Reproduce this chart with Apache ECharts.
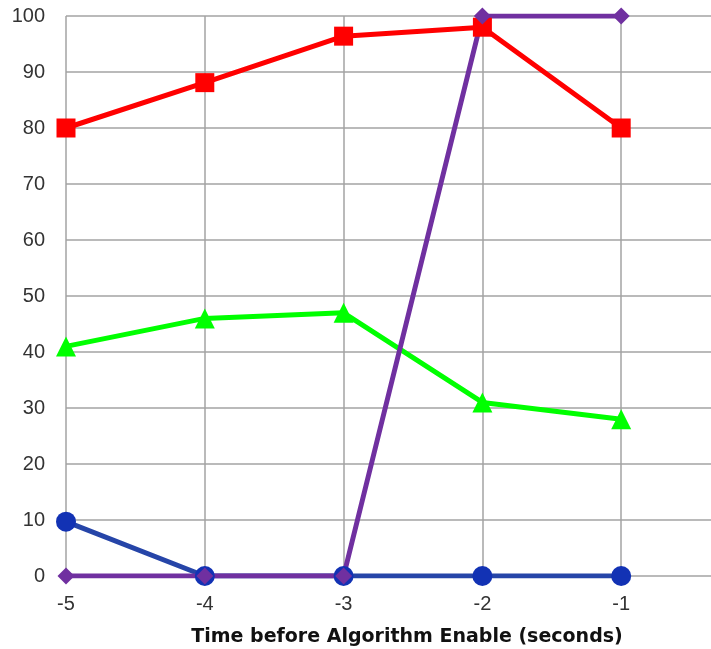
<!DOCTYPE html>
<html>
<head>
<meta charset="utf-8">
<script src="https://cdn.jsdelivr.net/npm/echarts@6/dist/echarts.min.js"></script>
<style>
  html, body { margin: 0; padding: 0; background: #ffffff; }
  #chart { width: 711px; height: 649px; }
</style>
</head>
<body>
<div id="chart"></div>
<script>
// Seconds before the algorithm is enabled
const times = [-5, -4, -3, -2, -1];

// Series values (percent)
const blueValues = [9.7, 0, 0, 0, 0];
const greenValues = [41, 46, 47, 31, 28];
const redValues = [80, 88.1, 96.4, 98, 80];
const purpleValues = [0, 0, 0, 100, 100];

const yTicks = [0, 10, 20, 30, 40, 50, 60, 70, 80, 90, 100];
const xTitle = 'Time before Algorithm Enable (seconds)';

const pairs = vals => times.map((t, i) => [t, vals[i]]);

const gridColor = '#a3a3a3';
const font = '"Liberation Sans", Arial, sans-serif';

const chart = echarts.init(document.getElementById('chart'), null, { renderer: 'canvas' });

function makeSeries(name, vals, symbol, size, lineColor, markerColor) {
  return {
    name: name,
    type: 'line',
    data: pairs(vals),
    symbol: symbol,
    symbolSize: size,
    showAllSymbol: true,
    lineStyle: { color: lineColor, width: 5 },
    itemStyle: { color: markerColor },
    emphasis: { disabled: true },
    animation: false
  };
}

chart.setOption({
  animation: false,
  // the plot runs on past the right edge of the canvas (x axis up to 0)
  grid: { left: 66, top: 16, right: -49, bottom: 73, containLabel: false, outerBoundsMode: 'none' },
  xAxis: {
    type: 'value',
    min: -5,
    max: 0,
    interval: 1,
    axisLine: { show: false },
    axisTick: { show: false },
    splitLine: { show: true, lineStyle: { color: gridColor, width: 1.5 } },
    axisLabel: {
      color: '#333333',
      fontFamily: font,
      fontSize: 20,
      margin: 18,
      formatter: v => (v === 0 ? '' : String(v))
    },
    name: xTitle,
    nameLocation: 'middle',
    nameGap: 52,
    nameTextStyle: {
      color: '#111111',
      fontFamily: '"DejaVu Sans", sans-serif',
      fontSize: 19,
      fontWeight: 'bold',
      padding: [0, 12, 0, 0]
    }
  },
  yAxis: {
    type: 'value',
    min: yTicks[0],
    max: yTicks[yTicks.length - 1],
    interval: 10,
    axisLine: { show: true, lineStyle: { color: gridColor, width: 1.5 } },
    axisTick: { show: true, inside: false, length: 8, lineStyle: { color: gridColor, width: 1.5 } },
    splitLine: { show: true, lineStyle: { color: gridColor, width: 1.5 } },
    axisLabel: {
      color: '#333333',
      fontFamily: font,
      fontSize: 20,
      margin: 21
    }
  },
  series: [
    makeSeries('Blue', blueValues, 'circle', 20, '#2645a8', '#1232b4'),
    makeSeries('Green', greenValues, 'triangle', 20, '#00ff00', '#00ff00'),
    makeSeries('Red', redValues, 'rect', 19, '#ff0000', '#ff0000'),
    makeSeries('Purple', purpleValues, 'diamond', 17, '#7030a0', '#7030a0')
  ]
});
</script>
</body>
</html>
